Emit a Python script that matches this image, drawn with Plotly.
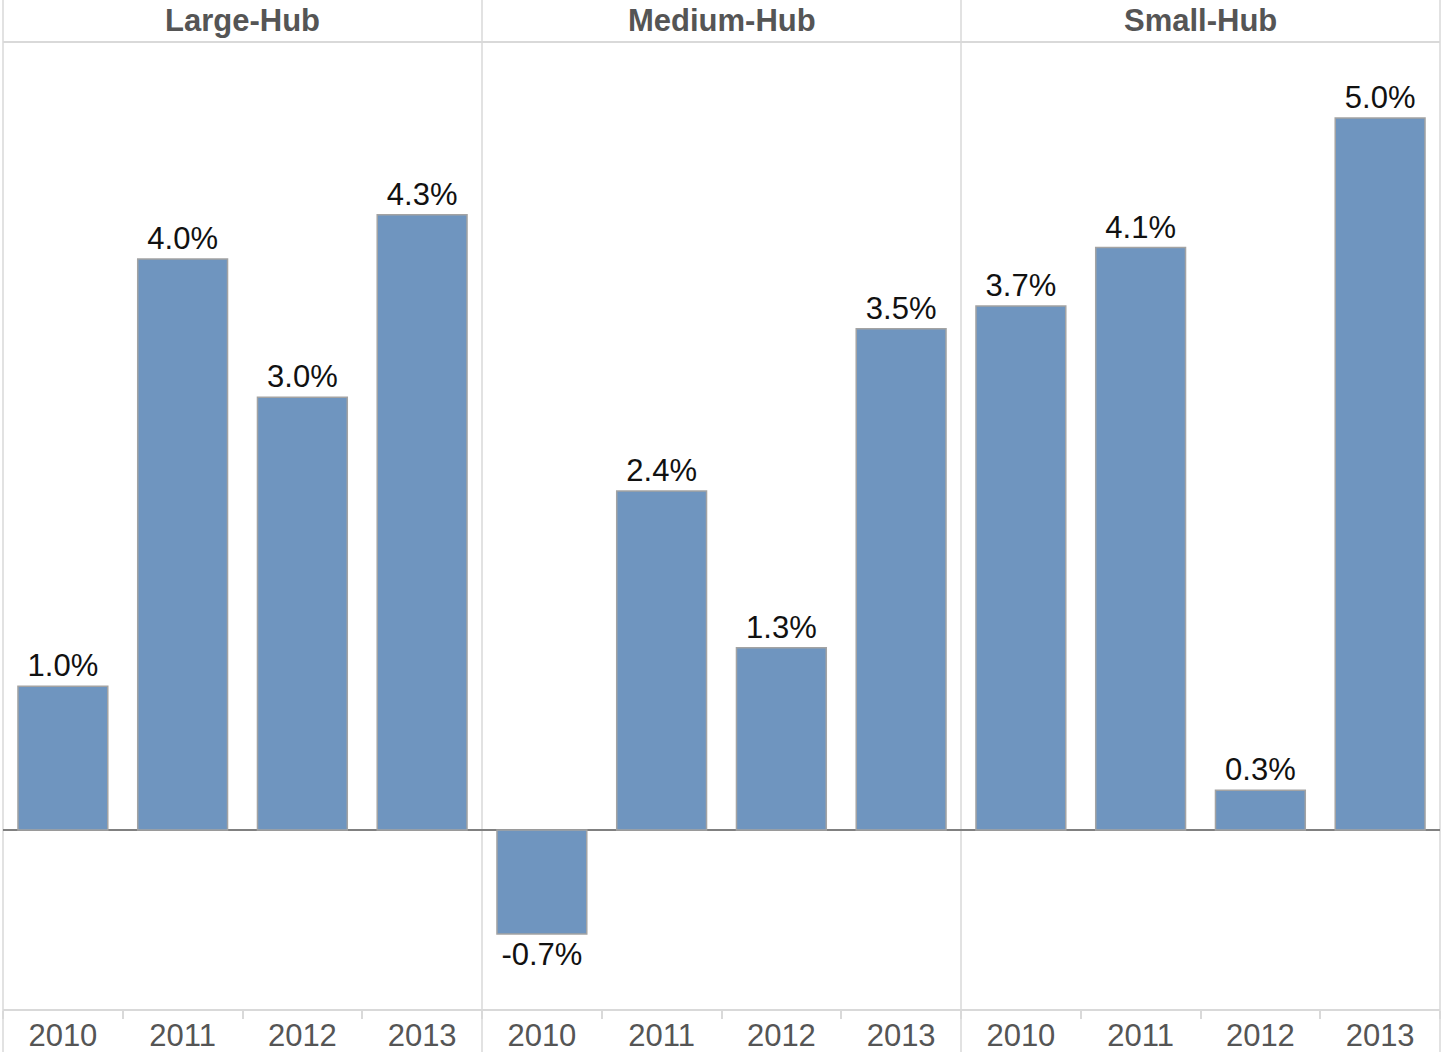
"""
Croissance annuelle par type de hub (barres en panneaux)
"""

import plotly.graph_objects as go
from plotly.subplots import make_subplots

hubs = ["Large-Hub", "Medium-Hub", "Small-Hub"]
years = ["2010", "2011", "2012", "2013"]
large_hub = [1.01, 4.01, 3.04, 4.32]
medium_hub = [-0.73, 2.38, 1.28, 3.52]
small_hub = [3.68, 4.09, 0.28, 5.0]

BAR_COLOR = "#6f95bf"
FONT = "Arial, Liberation Sans, sans-serif"
DIVIDER = "#d9d9d9"

W, H = 1441, 1052
M_L, M_R, M_T, M_B = 3, 1, 42, 42
plot_h = H - M_T - M_B

fig = make_subplots(rows=1, cols=3, horizontal_spacing=0, shared_yaxes=True)

for i, vals in enumerate([large_hub, medium_hub, small_hub]):
    fig.add_trace(go.Bar(
        x=years,
        y=vals,
        width=0.75,
        marker=dict(color=BAR_COLOR, line=dict(color="#a3a3a3", width=1.5)),
        text=[f"{v:.1f}%" for v in vals],
        textposition="outside",
        textfont=dict(family=FONT, size=31, color="#111111"),
        cliponaxis=False,
        showlegend=False,
        hoverinfo="skip",
    ), row=1, col=i + 1)

fig.update_xaxes(
    type="category",
    ticks="outside",
    tickson="boundaries",
    ticklen=8,
    tickwidth=1.5,
    tickcolor=DIVIDER,
    ticklabelstandoff=4,
    automargin=False,
    showline=False,
    showgrid=False,
    tickfont=dict(family=FONT, size=31, color="#555555"),
)
fig.update_yaxes(
    range=[-1.264, 5.534],
    showgrid=False,
    showticklabels=False,
    zeroline=True,
    zerolinecolor="#808080",
    zerolinewidth=1.5,
)

# lignes d'encadrement (en-tête, bas, séparateurs de panneaux)
ext = M_T / plot_h
shapes = []
for xv in [0, 1 / 3, 2 / 3, 1]:
    shapes.append(dict(type="line", xref="paper", yref="paper",
                       x0=xv, x1=xv, y0=-ext, y1=1 + ext,
                       line=dict(color=DIVIDER, width=1.5), layer="below"))
for yv in [0, 1]:
    shapes.append(dict(type="line", xref="paper", yref="paper",
                       x0=0, x1=1, y0=yv, y1=yv,
                       line=dict(color=DIVIDER, width=2), layer="below"))

annotations = []
for i, hub in enumerate(hubs):
    annotations.append(dict(
        text=f"<b>{hub}</b>", xref="paper", yref="paper",
        x=(i + 0.5) / 3, y=1 + ext / 2, xanchor="center", yanchor="middle",
        showarrow=False, font=dict(family=FONT, size=31, color="#555555"),
    ))

fig.update_layout(
    width=W,
    height=H,
    margin=dict(l=M_L, r=M_R, t=M_T, b=M_B),
    plot_bgcolor="white",
    paper_bgcolor="white",
    bargap=0.25,
    shapes=shapes,
    annotations=annotations,
)

fig.write_html("out.html", config={"displayModeBar": False},
               post_script="document.body.style.margin='0';")
